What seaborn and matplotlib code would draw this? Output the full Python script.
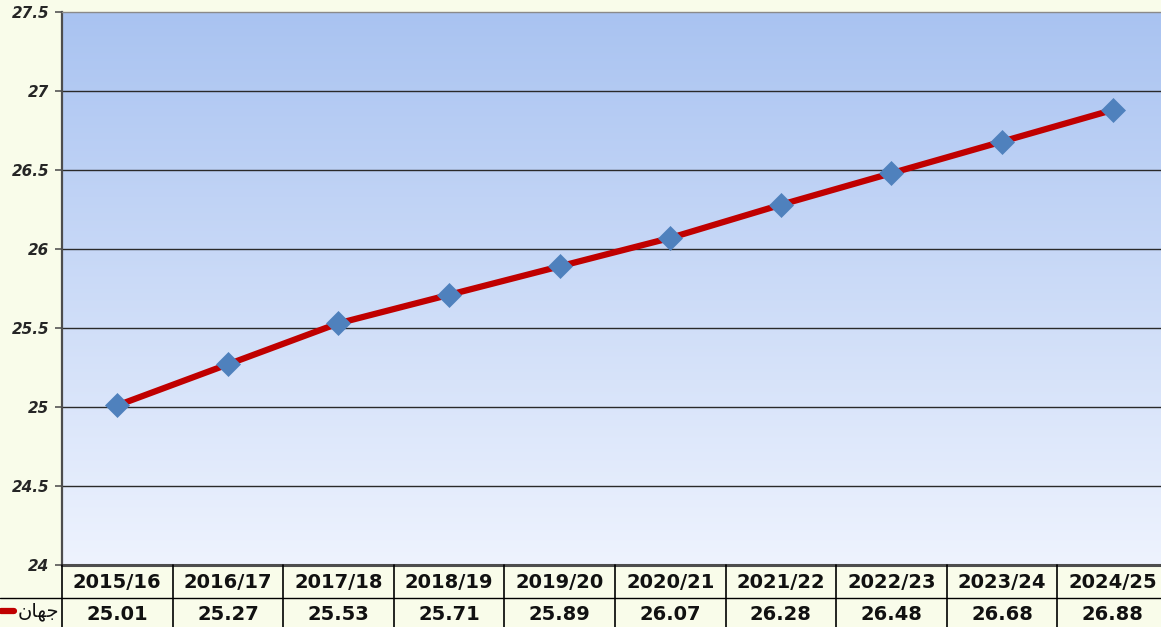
import numpy as np
import pandas as pd
import seaborn as sns
import matplotlib.pyplot as plt
from matplotlib.colors import LinearSegmentedColormap

seasons = ["2015/16", "2016/17", "2017/18", "2018/19", "2019/20",
           "2020/21", "2021/22", "2022/23", "2023/24", "2024/25"]
values = [25.01, 25.27, 25.53, 25.71, 25.89, 26.07, 26.28, 26.48, 26.68, 26.88]
yticks = [24, 24.5, 25, 25.5, 26, 26.5, 27, 27.5]
series_name = "جهان"
# shaped glyphs in visual (right-to-left) order, since matplotlib does no Arabic shaping
series_label = "\uFEE5\uFE8E\uFEEC\uFE9F"

df = pd.DataFrame({"season": seasons, "value": values})

sns.set_style("white")
plt.rcParams["font.family"] = ["DejaVu Sans"]

W, H = 1161, 627
fig = plt.figure(figsize=(W / 100, H / 100), dpi=100)
fig.patch.set_facecolor("#F9FCEA")

left_px, top_px, bottom_px = 62, 12, 565
col_w = 110.6
right_px = left_px + col_w * len(seasons)
ax = fig.add_axes([left_px / W, 1 - bottom_px / H,
                   (right_px - left_px) / W, (bottom_px - top_px) / H])

# gradient plot area
cmap = LinearSegmentedColormap.from_list("bg", ["#EEF3FE", "#A9C3F1"])
ax.imshow(np.linspace(0, 1, 256).reshape(-1, 1), cmap=cmap, aspect="auto",
          origin="lower", extent=[-0.5, len(seasons) - 0.5, 24, 27.5], zorder=0)

sns.lineplot(data=df, x="season", y="value", ax=ax, color="#C00000",
             linewidth=4.5, marker="D", markersize=12.5,
             markerfacecolor="#4F81BD", markeredgecolor="#4F81BD",
             markeredgewidth=0.5, zorder=3)

ax.set_xlim(-0.5, len(seasons) - 0.5)
ax.set_ylim(24, 27.5)
ax.set_yticks(yticks)
ax.set_yticklabels([f"{t:g}" for t in yticks], fontsize=11,
                   fontweight="bold", fontstyle="italic")
ax.set_xticks([])
ax.set_xlabel("")
ax.set_ylabel("")
for t in yticks[1:-1]:
    ax.axhline(t, color="#2A2A2A", linewidth=1.0, zorder=1)
ax.tick_params(axis="y", length=5, width=1.2, color="#555555", pad=4,
               left=True, direction="out")
for s in ["left", "bottom"]:
    ax.spines[s].set_color("#4D4D4D")
ax.spines["left"].set_linewidth(1.6)
ax.spines["bottom"].set_linewidth(2.2)
ax.spines["top"].set_color("#8A8A8A")
ax.spines["top"].set_linewidth(1.0)
ax.spines["right"].set_visible(False)

# data table under the chart
tab = fig.add_axes([left_px / W, 0, (right_px - left_px) / W, (H - bottom_px) / H])
tab.set_xlim(ax.get_xlim())
tab.set_ylim(H, bottom_px)
tab.axis("off")
row_sep = 598
x_left_fig = -0.5 - left_px / col_w
tab.plot([x_left_fig, len(seasons) - 0.5], [row_sep, row_sep], color="black",
         linewidth=1.0, clip_on=False)
for i in range(len(seasons) + 1):
    tab.plot([i - 0.5, i - 0.5], [bottom_px, H], color="black", linewidth=1.2,
             clip_on=False)
for i, (s, v) in enumerate(zip(seasons, values)):
    tab.text(i, (bottom_px + row_sep) / 2 + 1, s, ha="center", va="center",
             fontsize=14, fontweight="bold", color="#111111")
    tab.text(i, (row_sep + H) / 2 + 2, f"{v:.2f}", ha="center", va="center",
             fontsize=14, fontweight="bold", color="#111111")

# legend key in the row header
key_y = 611
tab.plot([x_left_fig + 0.01, x_left_fig + 14 / col_w], [key_y, key_y],
         color="#C00000", linewidth=4.5, solid_capstyle="round", clip_on=False)
tab.text(-0.5 - 3 / col_w, key_y + 1, series_label, ha="right", va="center",
         fontsize=14, color="#111111")

fig.savefig("out.png", dpi=100, facecolor=fig.get_facecolor())
